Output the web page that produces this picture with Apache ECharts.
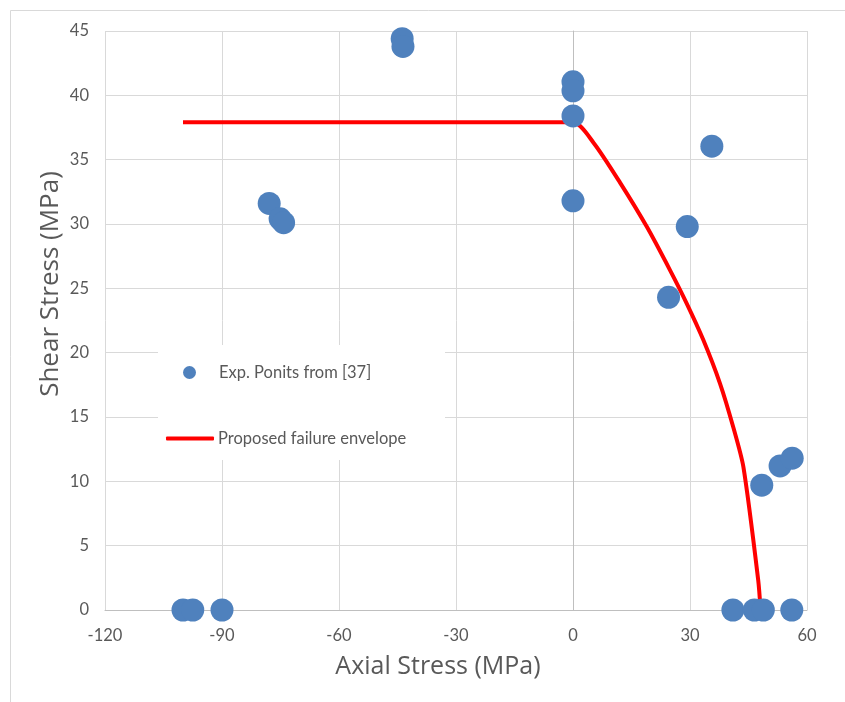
<!DOCTYPE html>
<html>
<head>
<meta charset="utf-8">
<script src="https://cdn.jsdelivr.net/npm/echarts@6/dist/echarts.min.js"></script>
<style>
  html, body { margin: 0; padding: 0; background: #fff; }
  #chart { width: 845px; height: 702px; }
</style>
</head>
<body>
<div id="chart"></div>
<script>
// experimental points (axial, shear)
const expAxial = [-100, -97.5, -90, -43.8, -43.6, -77.9, -75.1, -74.2, 0, 0, 0, 0, 35.6, 29.3, 24.5, 48.4, 53.1, 56.2, 41, 46.5, 48.8, 56.1]
const expShear = [0, 0, 0, 44.4, 43.8, 31.6, 30.4, 30.1, 41.05, 40.35, 38.4, 31.8, 36.05, 29.8, 24.3, 9.7, 11.2, 11.8, 0, 0, 0, 0]

// proposed failure envelope
const envAxial = [-100, 0, 5.3, 12.1, 18.9, 24.9, 29.2, 33.4, 37.7, 41.1, 43.7, 47.5, 48.1]
const envShear = [37.9, 37.9, 36.3, 33.2, 29.8, 26.4, 23.8, 21.0, 17.6, 14.2, 11.1, 2.3, 0]

const xTicks = { min: -120, max: 60, interval: 30 }
const yTicks = { min: 0, max: 45, interval: 5 }

const expName = 'Exp. Ponits from [37]'
const envName = 'Proposed failure envelope'
const font = 'Lato, "Open Sans", sans-serif'
const titleFont = '"Open Sans", Lato, sans-serif'
const textColor = '#595959'

let chart = echarts.init(document.getElementById('chart'))

let option = {
  backgroundColor: '#fff',
  animation: false,
  textStyle: { fontFamily: font },
  grid: { left: 105, right: 38, top: 31, bottom: 92 },
  xAxis: {
    type: 'value',
    min: xTicks.min,
    max: xTicks.max,
    interval: xTicks.interval,
    axisLine: { onZero: false, lineStyle: { color: '#bfbfbf', width: 1 } },
    axisTick: { show: false },
    axisLabel: { color: textColor, fontSize: 16.5, margin: 17, fontFamily: font },
    splitLine: { show: true, lineStyle: { color: '#d9d9d9', width: 1 } }
  },
  yAxis: {
    type: 'value',
    min: yTicks.min,
    max: yTicks.max,
    interval: yTicks.interval,
    axisLine: { show: true, onZero: true, lineStyle: { color: '#bfbfbf', width: 1 } },
    axisTick: { show: false },
    axisLabel: { color: textColor, fontSize: 16.5, margin: 16, fontFamily: font },
    splitLine: { show: true, lineStyle: { color: '#d9d9d9', width: 1 } }
  },
  legend: [
    {
      data: [{ name: expName, icon: 'circle' }],
      left: 178, top: 359,
      itemWidth: 13, itemHeight: 13, itemGap: 0,
      textStyle: { color: textColor, fontSize: 16.5, fontFamily: font, padding: [0, 0, 0, 18] }
    },
    {
      data: [{ name: envName, icon: 'roundRect' }],
      left: 161, top: 425,
      itemWidth: 48, itemHeight: 4, itemGap: 0,
      textStyle: { color: textColor, fontSize: 16.5, fontFamily: font, padding: [0, 0, 0, -1] }
    }
  ],
  graphic: [
    {
      type: 'rect', z: 1, silent: true,
      shape: { x: 10.5, y: 10.5, width: 845, height: 702 },
      style: { fill: 'none', stroke: '#d9d9d9', lineWidth: 1 }
    },
    {
      type: 'rect', z: 1, silent: true,
      shape: { x: 158, y: 345, width: 287, height: 115 },
      style: { fill: '#fff' }
    },
    {
      type: 'text', silent: true,
      x: 438, y: 667,
      style: {
        text: 'Axial Stress (MPa)', fill: textColor, font: '25px ' + titleFont,
        textAlign: 'center', textVerticalAlign: 'middle'
      }
    },
    {
      type: 'text', silent: true,
      x: 51, y: 284, rotation: Math.PI / 2,
      style: {
        text: 'Shear Stress (MPa)', fill: textColor, font: '26px ' + titleFont,
        textAlign: 'center', textVerticalAlign: 'middle'
      }
    }
  ],
  series: [
    {
      name: envName,
      type: 'line',
      symbol: 'none',
      smooth: 0.25,
      z: 3,
      lineStyle: { color: '#ff0000', width: 4 },
      itemStyle: { color: '#ff0000' },
      data: envAxial.map((x, i) => [x, envShear[i]])
    },
    {
      name: expName,
      type: 'scatter',
      symbolSize: 23,
      z: 4,
      itemStyle: { color: '#4f81bd', opacity: 1 },
      data: expAxial.map((x, i) => [x, expShear[i]])
    }
  ]
}

chart.setOption(option)
</script>
</body>
</html>
